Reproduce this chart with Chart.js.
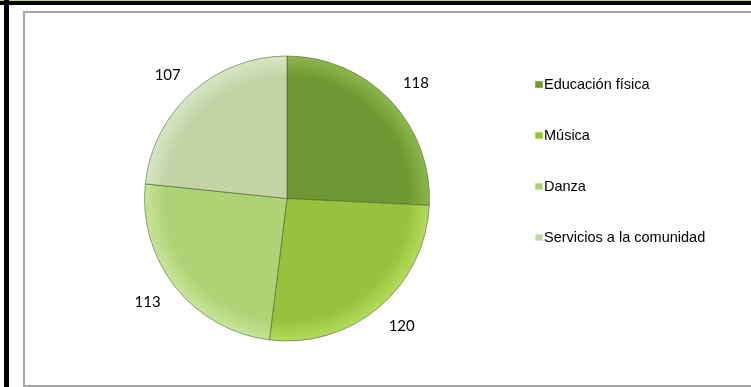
<!DOCTYPE html>
<html>
<head>
<meta charset="utf-8">
<script src="https://cdn.jsdelivr.net/npm/chart.js@4"></script>
<style>
  html, body { margin: 0; padding: 0; background: #fff; width: 751px; height: 387px; overflow: hidden; }
  #topline { position: absolute; left: 0; top: 0; width: 751px; height: 1px; background: #b9d37f; }
  #topbar { position: absolute; left: 0; top: 1px; width: 751px; height: 4px; background: #000; }
  #leftbar { position: absolute; left: 4px; top: 0; width: 5px; height: 387px; background: #000; }
  #frame { position: absolute; left: 23px; top: 11px; width: 760px; height: 372px; border: 2px solid #a6a6a6; }
  #wrap { position: absolute; left: 0; top: 0; width: 751px; height: 387px; }
</style>
</head>
<body>
<div id="topline"></div>
<div id="topbar"></div>
<div id="leftbar"></div>
<div id="frame"></div>
<div id="wrap"><canvas id="chart-pie" width="751" height="387"></canvas></div>
<script>
// Chart data
const categories = ['Educación física', 'Música', 'Danza', 'Servicios a la comunidad'];
const values = [118, 120, 113, 107];
const baseColors = ['#6f9733', '#97c23d', '#afd274', '#c2d4a6'];
const edgeColors = ['#8db84a', '#b4dc5c', '#c8e49a', '#d8e6c4'];

const ctx = document.getElementById('chart-pie').getContext('2d');

// radial gradient per slice, lighter towards the rim
function sliceFill(context) {
  const chart = context.chart;
  const area = chart.chartArea;
  if (!area) return baseColors[context.dataIndex];
  const cx = (area.left + area.right) / 2;
  const cy = (area.top + area.bottom) / 2;
  const r = Math.min(area.right - area.left, area.bottom - area.top) / 2;
  const g = chart.ctx.createRadialGradient(cx, cy, 0, cx, cy, r);
  const i = context.dataIndex;
  g.addColorStop(0, baseColors[i]);
  g.addColorStop(0.85, baseColors[i]);
  g.addColorStop(1, edgeColors[i]);
  return g;
}

// value labels outside the slices (slightly elliptical placement)
const outsideLabels = {
  id: 'outsideLabels',
  afterDatasetsDraw(chart) {
    const c = chart.ctx;
    const meta = chart.getDatasetMeta(0);
    c.save();
    c.font = "15px Lato, 'Open Sans', sans-serif";
    c.fillStyle = '#000';
    c.textAlign = 'center';
    c.textBaseline = 'middle';
    meta.data.forEach((arc, i) => {
      const mid = (arc.startAngle + arc.endAngle) / 2;
      const rx = arc.outerRadius * 1.25;
      const ry = arc.outerRadius * 1.17;
      c.fillText(String(values[i]), arc.x + Math.cos(mid) * rx, arc.y + Math.sin(mid) * ry);
    });
    c.restore();
  }
};

// legend drawn on the right side
const sideLegend = {
  id: 'sideLegend',
  afterDraw(chart) {
    const c = chart.ctx;
    const x = 535;
    const y0 = 84;
    const step = 51;
    c.save();
    c.font = "14.5px 'Liberation Sans', Arial, sans-serif";
    c.textBaseline = 'middle';
    c.textAlign = 'left';
    categories.forEach((label, i) => {
      const y = y0 + i * step;
      c.fillStyle = baseColors[i];
      c.fillRect(x, y - 3, 8, 7);
      c.strokeStyle = edgeColors[i];
      c.lineWidth = 1;
      c.strokeRect(x + 0.5, y - 2.5, 7, 6);
      c.fillStyle = '#000';
      c.fillText(label, x + 9, y + 1);
    });
    c.restore();
  }
};

new Chart(ctx, {
  type: 'pie',
  data: {
    labels: categories,
    datasets: [{
      data: values,
      backgroundColor: sliceFill,
      borderColor: 'rgba(70, 85, 45, 0.55)',
      borderWidth: 1
    }]
  },
  options: {
    responsive: false,
    animation: false,
    layout: { padding: { left: 144, right: 321, top: 55, bottom: 45 } },
    plugins: {
      legend: { display: false },
      tooltip: { enabled: false }
    }
  },
  plugins: [outsideLabels, sideLegend]
});
</script>
</body>
</html>
